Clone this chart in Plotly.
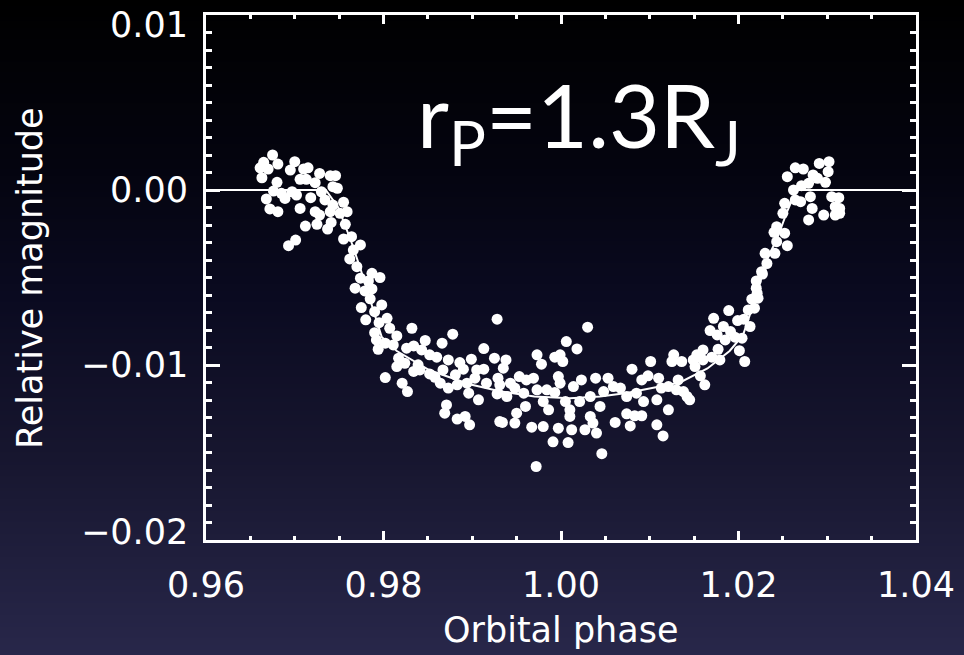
import plotly.graph_objects as go

# ---------------- data ----------------
phase = [
    0.9675, 0.9665, 0.9661, 0.9670, 0.9681, 0.9700, 0.9695, 0.9710, 0.9715, 0.9663,
    0.9728, 0.9740, 0.9746, 0.9706, 0.9713, 0.9723, 0.9680, 0.9743, 0.9748, 0.9676,
    0.9685, 0.9697, 0.9702, 0.9689, 0.9668, 0.9718, 0.9734, 0.9730, 0.9743, 0.9755,
    0.9759, 0.9672, 0.9681, 0.9706, 0.9723, 0.9728, 0.9740, 0.9751, 0.9712, 0.9725,
    0.9737, 0.9741, 0.9757, 0.9755, 0.9764, 0.9774, 0.9701, 0.9693, 0.9766, 0.9762,
    0.9770, 0.9787, 0.9796, 0.9774, 0.9783, 0.9768, 0.9779, 0.9787, 0.9785, 0.9798,
    0.9775, 0.9790,
    0.9780, 0.9804, 0.9795, 0.9790, 0.9807, 0.9832, 0.9815, 0.9792, 0.9802, 0.9811,
    0.9794, 0.9826, 0.9834, 0.9847, 0.9866, 0.9878, 0.9843, 0.9852, 0.9860, 0.9817,
    0.9839, 0.9824, 0.9815, 0.9873, 0.9886, 0.9899, 0.9890, 0.9905, 0.9913, 0.9913,
    0.9925, 0.9928, 0.9802, 0.9821, 0.9827, 0.9834, 0.9841, 0.9852, 0.9858, 0.9867,
    0.9881, 0.9864, 0.9873, 0.9883, 0.9894, 0.9903, 0.9916, 0.9907, 0.9896, 0.9871,
    0.9869, 0.9883, 0.9892, 0.9897, 0.9929, 0.9929, 0.9931,
    1.0030, 1.0006, 1.0018, 0.9938, 0.9935, 0.9973, 0.9978, 0.9993, 0.9999, 1.0002,
    0.9953, 0.9931, 0.9943, 0.9948, 0.9961, 0.9969, 0.9997, 0.9999, 1.0014, 1.0023,
    1.0039, 1.0053, 1.0080, 1.0101, 1.0091, 1.0098, 0.9928, 0.9939, 0.9958, 0.9973,
    0.9984, 0.9993, 0.9960, 0.9950, 0.9980, 0.9986, 1.0005, 1.0010, 1.0021, 1.0033,
    1.0048, 1.0059, 1.0067, 1.0074, 1.0085, 1.0093, 1.0108, 1.0044, 1.0033, 1.0010,
    1.0036, 1.0027, 1.0061, 1.0074, 1.0083, 1.0091, 1.0078, 0.9934, 0.9948, 0.9967,
    0.9980, 0.9997, 1.0012, 1.0040, 0.9991, 1.0008, 1.0046, 0.9972, 1.0108,
    1.0227, 1.0220, 1.0221, 1.0215, 1.0222, 1.0211, 1.0218, 1.0189, 1.0172, 1.0199,
    1.0206, 1.0213, 1.0183, 1.0168, 1.0176, 1.0191, 1.0196, 1.0204, 1.0185, 1.0177,
    1.0201, 1.0207, 1.0160, 1.0153, 1.0149, 1.0160, 1.0170, 1.0179, 1.0127, 1.0125,
    1.0136, 1.0151, 1.0157, 1.0162, 1.0132, 1.0110, 1.0113, 1.0121, 1.0130, 1.0138,
    1.0145, 1.0121, 1.0142, 1.0115,
    1.0291, 1.0302, 1.0301, 1.0264, 1.0273, 1.0255, 1.0284, 1.0289, 1.0298, 1.0279,
    1.0271, 1.0262, 1.0281, 1.0305, 1.0313, 1.0264, 1.0270, 1.0252, 1.0309, 1.0314,
    1.0283, 1.0250, 1.0296, 1.0309, 1.0314, 1.0279, 1.0243, 1.0252, 1.0240, 1.0255,
    1.0243, 1.0230, 1.0241, 1.0226, 1.0232, 1.0220,
]
magnitude = [
    0.00200, 0.00158, 0.00127, 0.00120, 0.00148, 0.00162, 0.00114, 0.00120, 0.00127, 0.00070,
    0.00095, 0.00082, 0.00082, 0.00061, 0.00061, 0.00042, 0.00044, 0.00019, 0.00010, -0.00006,
    -0.00019, -0.00010, -0.00029, -0.00048, -0.00051, -0.00044, -0.00057, -0.00010, -0.00086, -0.00070,
    -0.00124, -0.00108, -0.00124, -0.00105, -0.00124, -0.00143, -0.00124, -0.00133, -0.00206, -0.00196,
    -0.00223, -0.00185, -0.00196, -0.00280, -0.00267, -0.00314, -0.00286, -0.00318, -0.00343, -0.00394,
    -0.00438, -0.00476, -0.00500, -0.00504, -0.00520, -0.00561, -0.00577, -0.00565, -0.00622, -0.00657,
    -0.00672, -0.00695,
    -0.00742, -0.00733, -0.00758, -0.00815, -0.00790, -0.00790, -0.00834, -0.00857, -0.00875, -0.00885,
    -0.00910, -0.00904, -0.00891, -0.00860, -0.00875, -0.00824, -0.00914, -0.00942, -0.00955, -0.00961,
    -0.00999, -0.00990, -0.01009, -0.00971, -0.00986, -0.00967, -0.01024, -0.01028, -0.01024, -0.00906,
    -0.00961, -0.00738, -0.01072, -0.01104, -0.01152, -0.01037, -0.01028, -0.01051, -0.01070, -0.01028,
    -0.01056, -0.01104, -0.01132, -0.01113, -0.01104, -0.01075, -0.01104, -0.01199, -0.01161, -0.01228,
    -0.01275, -0.01309, -0.01294, -0.01342, -0.01075, -0.01161, -0.01323,
    -0.00784, -0.00866, -0.00908, -0.00971, -0.01018, -0.00942, -0.00995, -0.00955, -0.00942, -0.00980,
    -0.01066, -0.01113, -0.01104, -0.01132, -0.01085, -0.01075, -0.01066, -0.01104, -0.01123, -0.01085,
    -0.01075, -0.01075, -0.01024, -0.00980, -0.01085, -0.01062, -0.01165, -0.01180, -0.01161, -0.01142,
    -0.01142, -0.01157, -0.01237, -0.01275, -0.01209, -0.01256, -0.01209, -0.01256, -0.01209, -0.01180,
    -0.01152, -0.01123, -0.01132, -0.01180, -0.01161, -0.01209, -0.01199, -0.01237, -0.01294, -0.01294,
    -0.01332, -0.01370, -0.01328, -0.01279, -0.01290, -0.01290, -0.01348, -0.01328, -0.01332, -0.01355,
    -0.01352, -0.01361, -0.01370, -0.01389, -0.01439, -0.01443, -0.01507, -0.01580, -0.01342,
    -0.00480, -0.00561, -0.00590, -0.00624, -0.00618, -0.00685, -0.00675, -0.00689, -0.00733, -0.00746,
    -0.00738, -0.00780, -0.00780, -0.00803, -0.00828, -0.00809, -0.00841, -0.00847, -0.00857, -0.00910,
    -0.00918, -0.00980, -0.00914, -0.00942, -0.00971, -0.00971, -0.00955, -0.00971, -0.00942, -0.00980,
    -0.00980, -0.01009, -0.01062, -0.01113, -0.01085, -0.01075, -0.01132, -0.01123, -0.01142, -0.01152,
    -0.01199, -0.01256, -0.01180, -0.01405,
    0.00152, 0.00162, 0.00105, 0.00127, 0.00120, 0.00076, 0.00086, 0.00067, 0.00044, 0.00038,
    0.00025, 0.00000, -0.00038, -0.00038, -0.00044, -0.00057, -0.00067, -0.00076, -0.00095, -0.00105,
    -0.00105, -0.00133, -0.00143, -0.00143, -0.00133, -0.00171, -0.00210, -0.00247, -0.00242, -0.00318,
    -0.00295, -0.00362, -0.00362, -0.00467, -0.00420, -0.00520,
]

model_phase = [0.960, 0.9735, 0.9749, 0.9764, 0.9774, 0.9787, 0.9798, 0.9815, 0.9852,
               0.9897, 0.9931, 0.9970, 1.0010, 1.0044, 1.0074, 1.0134, 1.0165, 1.0190,
               1.0205, 1.0215, 1.0232, 1.0244, 1.0255, 1.0265, 1.040]
model_mag = [0.0, 0.0, -0.0010, -0.0030, -0.0045, -0.0066, -0.0084, -0.0092, -0.0103,
             -0.0111, -0.0115, -0.0118, -0.0119, -0.0118, -0.0116, -0.0110, -0.0102, -0.0092,
             -0.0083, -0.0068, -0.0040, -0.0027, -0.0012, 0.0, 0.0]

x_ticks = [0.96, 0.98, 1.00, 1.02, 1.04]
x_labels = ["0.96", "0.98", "1.00", "1.02", "1.04"]
y_ticks = [-0.02, -0.01, 0.00, 0.01]
y_labels = ["\u22120.02", "\u22120.01", "0.00", "0.01"]

# background gradient (top black -> bottom navy)
bg_pos = [0.0, 0.25, 0.45, 0.70, 1.0]   # 1 = top of page
bg_colorscale = [[0.0, "#28274a"], [0.30, "#17162f"], [0.55, "#0a0a20"],
                 [0.75, "#04040f"], [1.0, "#000000"]]

fig = go.Figure()

fig.add_trace(go.Heatmap(
    x=[0, 1], y=bg_pos, z=[[p, p] for p in bg_pos],
    colorscale=bg_colorscale, zmin=0, zmax=1, zsmooth="best",
    showscale=False, hoverinfo="skip", xaxis="x", yaxis="y",
))

fig.add_trace(go.Scatter(
    x=phase, y=magnitude, mode="markers",
    marker=dict(color="white", size=11, line=dict(width=0)),
    xaxis="x2", yaxis="y2", showlegend=False,
))
fig.add_trace(go.Scatter(
    x=model_phase, y=model_mag, mode="lines",
    line=dict(color="white", width=2),
    xaxis="x2", yaxis="y2", showlegend=False,
))

tick_font = dict(family="DejaVu Sans", size=35, color="white")
title_font = dict(family="DejaVu Sans", size=35, color="white")

# y tick labels as annotations (end labels nudged inward like the original)
annotations = []
for i, (v, lab) in enumerate(zip(y_ticks, y_labels)):
    shift = 0
    if i == len(y_ticks) - 1:
        shift = -10
    elif i == 0:
        shift = 8
    annotations.append(dict(
        text=lab, x=190 / 964, xref="paper", y=v, yref="y2",
        xanchor="right", yanchor="middle", yshift=shift, showarrow=False,
        font=tick_font,
    ))
annotations.append(dict(
    text="Relative magnitude", x=30 / 964, xref="paper", y=1 - 278 / 655, yref="paper",
    xanchor="center", yanchor="middle", textangle=-90, showarrow=False, font=title_font,
))
annotations.append(dict(
    text="Orbital phase", x=561 / 964, xref="paper", y=1 - 630 / 655, yref="paper",
    xanchor="center", yanchor="middle", showarrow=False, font=title_font,
))
annotations.append(dict(
    text="r<sub>P</sub>=1.3R<sub>J</sub>", x=1.002, y=0.0040,
    xref="x2", yref="y2", xanchor="center", yanchor="middle", showarrow=False,
    font=dict(family="Lato", size=88, color="white"),
))

fig.update_layout(
    width=964, height=655,
    margin=dict(l=0, r=0, t=0, b=0, autoexpand=False),
    paper_bgcolor="black",
    plot_bgcolor="rgba(0,0,0,0)",
    showlegend=False,
    xaxis=dict(domain=[0, 1], range=[0, 1], visible=False, fixedrange=True,
               automargin=False),
    yaxis=dict(domain=[0, 1], range=[0, 1], visible=False, fixedrange=True,
               automargin=False),
    xaxis2=dict(
        domain=[206 / 964, 916 / 964], anchor="y2", range=[0.96, 1.04],
        tickmode="array", tickvals=x_ticks, ticktext=x_labels,
        ticks="inside", ticklen=9, tickwidth=2.5, automargin=False,
        ticklabeloverflow="allow",
        tickcolor="white", showline=True, linecolor="white", linewidth=3,
        mirror="allticks", showgrid=False, zeroline=False,
        tickfont=tick_font, ticklabelstandoff=12,
        minor=dict(dtick=0.005, tick0=0.96, ticks="inside", ticklen=4, tickwidth=2.5,
                   tickcolor="white", showgrid=False),
    ),
    yaxis2=dict(
        domain=[1 - 540 / 655, 1 - 15 / 655], anchor="x2", range=[-0.02, 0.01],
        tickmode="array", tickvals=y_ticks, showticklabels=False,
        ticks="inside", ticklen=14, tickwidth=2.5, automargin=False,
        tickcolor="white", showline=True, linecolor="white", linewidth=3,
        mirror="allticks", showgrid=False, zeroline=False,
        minor=dict(dtick=0.001, tick0=0.0, ticks="inside", ticklen=6, tickwidth=2.5,
                   tickcolor="white", showgrid=False),
    ),
    annotations=annotations,
)

fig.write_html("out.html")
